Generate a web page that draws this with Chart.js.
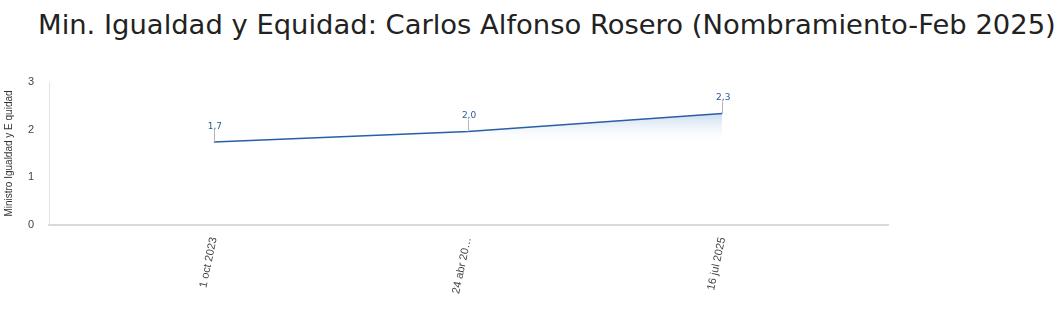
<!DOCTYPE html>
<html>
<head>
<meta charset="utf-8">
<script src="https://cdn.jsdelivr.net/npm/chart.js@4.4.1/dist/chart.umd.min.js"></script>
<style>
  html, body { margin: 0; padding: 0; background: #fff; overflow: hidden; }
  #title {
    position: absolute; left: 38px; top: 9px; white-space: nowrap;
    font-family: "DejaVu Sans", sans-serif; font-size: 27.4px; color: #222;
  }
  #wrap { position: absolute; left: 0; top: 60px; width: 1064px; height: 256px; }
</style>
</head>
<body>
<div id="title">Min. Igualdad y Equidad: Carlos Alfonso Rosero (Nombramiento-Feb 2025)</div>
<div id="wrap"><canvas id="myChart"></canvas></div>
<script>
const dateLabels = ["1 oct 2023", "24 abr 20\u2026", "16 jul 2025"];
const scoreValues = [1.74, 1.96, 2.34];
const valueLabels = ["1,7", "2,0", "2,3"];
const yTicks = [0, 1, 2, 3];

const points = scoreValues.map((v, i) => ({ x: i, y: v }));

const leaderLabels = {
  id: "leaderLabels",
  afterDatasetsDraw(chart) {
    const ctx = chart.ctx;
    const meta = chart.getDatasetMeta(0);
    ctx.save();
    meta.data.forEach((pt, i) => {
      ctx.strokeStyle = "#b5b5b5";
      ctx.lineWidth = 1;
      ctx.beginPath();
      ctx.moveTo(Math.round(pt.x) + 0.5, pt.y);
      ctx.lineTo(Math.round(pt.x) + 0.5, pt.y - 12);
      ctx.stroke();
      ctx.fillStyle = "#2b5a9b";
      ctx.font = "9px 'DejaVu Sans', sans-serif";
      ctx.textAlign = "center";
      ctx.textBaseline = "bottom";
      ctx.fillText(valueLabels[i], pt.x + 1, pt.y - 11);
    });
    ctx.restore();
  }
};

const ctx = document.getElementById("myChart");
new Chart(ctx, {
  type: "line",
  data: {
    datasets: [
      {
        data: points,
        borderColor: "#2a5ea6",
        borderWidth: 1.5,
        pointRadius: 0,
        tension: 0,
        fill: "origin",
        backgroundColor: (c) => {
          const { chart } = c;
          const { ctx, scales, chartArea } = chart;
          if (!chartArea || !scales.y) return "rgba(200,218,240,0.6)";
          const top = scales.y.getPixelForValue(2.4);
          const bottom = scales.y.getPixelForValue(1.7);
          if (!isFinite(top) || !isFinite(bottom)) return "rgba(200,218,240,0.6)";
          const g = ctx.createLinearGradient(0, top, 0, bottom);
          g.addColorStop(0, "rgba(190,210,236,0.95)");
          g.addColorStop(1, "rgba(255,255,255,0)");
          return g;
        }
      }
    ]
  },
  options: {
    responsive: true,
    maintainAspectRatio: false,
    animation: false,
    layout: { padding: { left: 3, right: 176, top: 22, bottom: 18 } },
    plugins: {
      legend: { display: false },
      tooltip: { enabled: false },
      title: { display: false }
    },
    scales: {
      x: {
        type: "linear",
        min: -0.648,
        max: 2.652,
        afterBuildTicks: (axis) => {
          axis.ticks = dateLabels.map((_, i) => ({ value: i }));
        },
        ticks: {
          autoSkip: false,
          minRotation: 78,
          maxRotation: 78,
          color: "#444",
          font: { family: "Arial, 'Liberation Sans', sans-serif", size: 11 },
          callback: (v) => dateLabels[v]
        },
        grid: { display: false },
        border: { color: "#d9d9d9", width: 2 }
      },
      y: {
        min: 0,
        max: 3,
        afterBuildTicks: (axis) => {
          axis.ticks = yTicks.map((v) => ({ value: v }));
        },
        ticks: {
          color: "#444",
          padding: 7,
          font: { family: "Arial, 'Liberation Sans', sans-serif", size: 11 }
        },
        grid: { display: false },
        border: { color: "#e3e3e3", width: 1 },
        title: {
          display: true,
          text: "Ministro Igualdad y E quidad",
          color: "#333",
          font: { family: "Arial, 'Liberation Sans', sans-serif", size: 10 },
          padding: { top: 0, bottom: 6 }
        }
      }
    }
  },
  plugins: [leaderLabels]
});
</script>
</body>
</html>
